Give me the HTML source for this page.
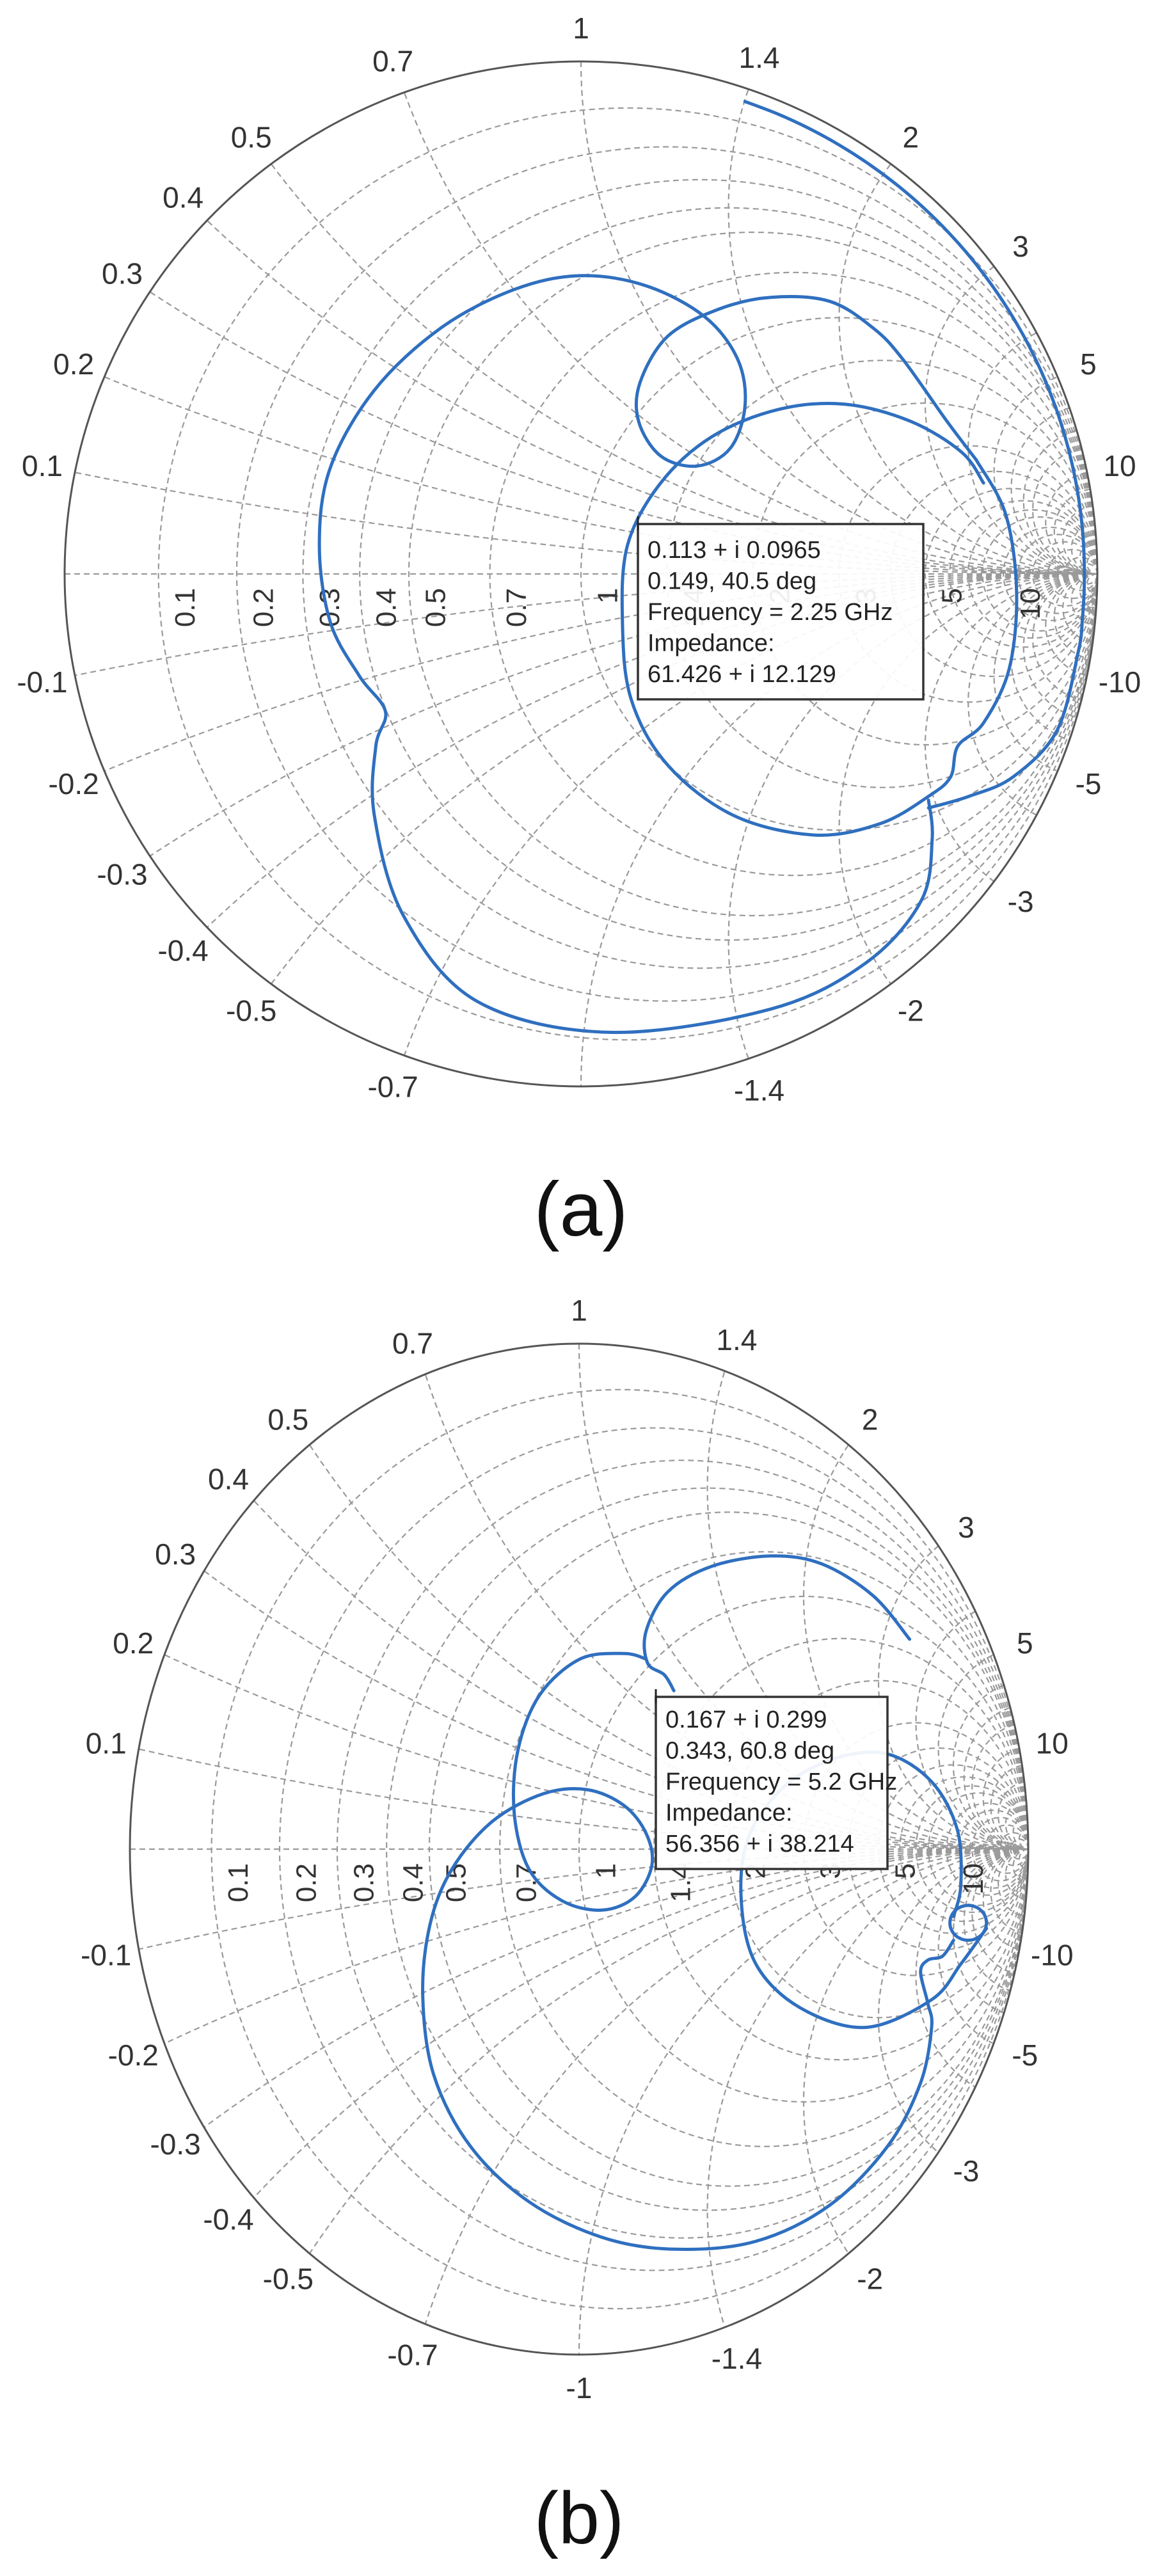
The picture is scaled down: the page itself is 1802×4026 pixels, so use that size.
<!DOCTYPE html>
<html><head><meta charset="utf-8">
<style>
html,body{margin:0;padding:0;background:#fff;overflow:hidden;width:1802px;height:4026px;}
svg{display:block;}
text{font-family:"Liberation Sans",sans-serif;}
</style></head>
<body>
<svg id="s" xmlns="http://www.w3.org/2000/svg" width="1802" height="4026" viewBox="0 0 1802 4026">
<rect width="1802" height="4026" fill="#fff"/>
<text x="908" y="1931" font-size="120" text-anchor="middle" fill="#111">(a)</text>
<text x="905" y="3975" font-size="115" text-anchor="middle" fill="#111">(b)</text>
</svg>
<script>
(function(){
var NS="http://www.w3.org/2000/svg";
var svg=document.getElementById('s');
function el(tag,attrs,parent,txt){var e=document.createElementNS(NS,tag);for(var k in attrs)e.setAttribute(k,attrs[k]);if(txt!==undefined)e.textContent=txt;(parent||svg).appendChild(e);return e;}
function smooth(pts){
  var d="M"+pts[0][0].toFixed(1)+","+pts[0][1].toFixed(1);
  for(var i=0;i<pts.length-1;i++){
    var p0=pts[i-1]||pts[i],p1=pts[i],p2=pts[i+1],p3=pts[i+2]||p2;
    var c1=[p1[0]+(p2[0]-p0[0])/6,p1[1]+(p2[1]-p0[1])/6];
    var c2=[p2[0]-(p3[0]-p1[0])/6,p2[1]-(p3[1]-p1[1])/6];
    d+="C"+c1[0].toFixed(1)+","+c1[1].toFixed(1)+" "+c2[0].toFixed(1)+","+c2[1].toFixed(1)+" "+p2[0].toFixed(1)+","+p2[1].toFixed(1);
  }
  return d;
}
function chart(id,cx,cy,rx,ry,zc,curves,box,lines,showM1){
  function M(u,v){return [cx+u*rx,cy-v*ry];}
  function Z(p){return M((p[0]-zc[0])/zc[2],(zc[1]-p[1])/zc[3]);}
  var g=el('g',{fill:'none',stroke:'#9a9a9a','stroke-width':2.2,'stroke-dasharray':'9,6'});
  function circ(uc,vc,r){
    var n=Math.max(360,Math.round(r*2000)),d="",pen=false;
    for(var i=0;i<=n;i++){
      var a=i/n*2*Math.PI,u=uc+r*Math.cos(a),v=vc+r*Math.sin(a);
      if(u*u+v*v<=1.0005){var p=M(u,v);d+=(pen?"L":"M")+p[0].toFixed(1)+","+p[1].toFixed(1);pen=true;}
      else pen=false;
    }
    if(d) el('path',{d:d},g);
  }
  var R=[0.1,0.2,0.3,0.4,0.5,0.7,1,1.4,2,3,4,5,6,7,8,10,12,15,20,30,50];
  R.forEach(function(r){circ(r/(1+r),0,1/(1+r));});
  var X=[0.1,0.2,0.3,0.4,0.5,0.7,1,1.4,2,3,4,5,6,7,8,10,12,15,20,30,50];
  X.forEach(function(x){circ(1,1/x,1/x);circ(1,-1/x,1/x);});
  var a1=M(-1,0),a2=M(1,0);
  el('line',{x1:a1[0],y1:a1[1],x2:a2[0],y2:a2[1]},g);
  el('ellipse',{cx:cx,cy:cy,rx:rx,ry:ry,fill:'none',stroke:'#555','stroke-width':3});
  var L=[0.1,0.2,0.3,0.4,0.5,0.7,1,1.4,2,3,5,10];
  L.forEach(function(x){
    [1,-1].forEach(function(s){
      if(!showM1 && x===1 && s===-1) return;
      var xx=x*s;
      var u=(xx*xx-1)/(xx*xx+1),v=2*xx/(xx*xx+1);
      var p=M(u,v);
      var nx=u/rx,ny=-v/ry,nl=Math.sqrt(nx*nx+ny*ny);nx/=nl;ny/=nl;
      var off=52;
      el('text',{x:(p[0]+nx*off).toFixed(1),y:(p[1]+ny*off).toFixed(1),'font-size':46,'text-anchor':'middle','dominant-baseline':'central',fill:'#333'},svg,String(s<0?'-'+x:x));
    });
  });
  [0.1,0.2,0.3,0.4,0.5,0.7,1,1.4,2,3,5,10].forEach(function(r){
    var p=M((r-1)/(r+1),0);
    var x=p[0]+42,y=cy+22;
    el('text',{x:x,y:y,'font-size':44,'text-anchor':'end','dominant-baseline':'central',fill:'#333',transform:'rotate(-90 '+x+' '+y+')'},svg,String(r));
  });
  curves.forEach(function(c){
    var pts=c.map(Z);
    el('path',{d:smooth(pts),fill:'none',stroke:'#2f6fbf','stroke-width':5,'stroke-linejoin':'round','stroke-linecap':'round'});
  });
  el('rect',{x:box[0],y:box[1],width:box[2]-box[0],height:box[3]-box[1],fill:'#fff','fill-opacity':0.92,stroke:'#333','stroke-width':3.5});
  el('line',{x1:box[0],y1:box[1]-12,x2:box[0],y2:box[1]+10,stroke:'#222','stroke-width':3});
  lines.forEach(function(t,i){
    el('text',{x:box[0]+15,y:box[4]+i*48.5,'font-size':38,fill:'#222'},svg,t);
  });
}
var zA=[791.5,737.5,703.5,662.5];
var arc=[];
for(var a=71;a>=-12;a-=4){var t=a*Math.PI/180;arc.push([791.5+0.975*703.5*Math.cos(t),737.5-0.975*662.5*Math.sin(t)]);}
arc=arc.concat([[1440,940],[1380,1000],[1320,1025],[1265,1040]]);
var P2=[[1265,1030],[1270,1080],[1255,1160],[1180,1240],[1050,1300],[830,1330],[650,1290],[550,1180],[510,1050],[512,960],[525,915],[490,870],[450,800],[435,700],[450,600],[510,500],[600,420],[700,370],[790,352],[880,365],[960,405],[1005,460],[1015,520],[995,575],[950,598],[900,585],[870,540],[872,490],[910,430],[980,395],[1050,380],[1130,385],[1190,420],[1230,460],[1290,540],[1330,590]];
var P3=[[1330,590],[1370,660],[1385,760],[1375,860],[1340,930],[1305,960],[1295,1000],[1265,1025],[1200,1060],[1110,1075],[1000,1050],[910,985],[860,900],[848,800],[855,700],[900,620],[970,560],[1060,525],[1150,518],[1240,540],[1310,580],[1340,620]];
chart('a',908,897,807,801,zA,[arc,P2,P3],[997,819,1443,1093,872],
 ["0.113 + i 0.0965","0.149, 40.5 deg","Frequency = 2.25 GHz","Impedance:","61.426 + i 12.129"],false);
var zB=[788.5,645,613.5,638];
var Q1=[[1240,380],[1190,325],[1120,285],[1050,275],[970,288],[910,320],[880,370],[882,410],[905,425],[918,445]];
var Q2=[[880,405],[850,398],[790,405],[735,450],[705,520],[700,600],[720,670],[765,710],[820,722],[865,705],[888,665],[880,625],[850,590],[800,570],[740,575],[670,610],[615,670],[585,740],[575,830],[590,930],[640,1020],[720,1090],[820,1135],[920,1150],[1030,1140],[1130,1095],[1210,1020],[1255,940],[1270,870],[1265,840],[1255,800],[1265,785],[1285,780],[1300,760]];
var Q3=[];for(var i=0;i<=24;i++){var t=i/24*2*Math.PI;Q3.push([1320+25*Math.cos(t),738+22*Math.sin(t)]);}
var Q4=[[1345,745],[1310,790],[1270,835],[1180,870],[1090,845],[1030,790],[1010,710],[1020,630],[1070,565],[1140,530],[1210,525],[1270,560],[1305,620],[1310,690],[1300,730]];
chart('b',905,2890,702,790,zB,[Q1,Q2,Q3,Q4],[1025,2652,1387,2921,2700],
 ["0.167 + i 0.299","0.343, 60.8 deg","Frequency = 5.2 GHz","Impedance:","56.356 + i 38.214"],true);
})();
</script>
</body></html>
